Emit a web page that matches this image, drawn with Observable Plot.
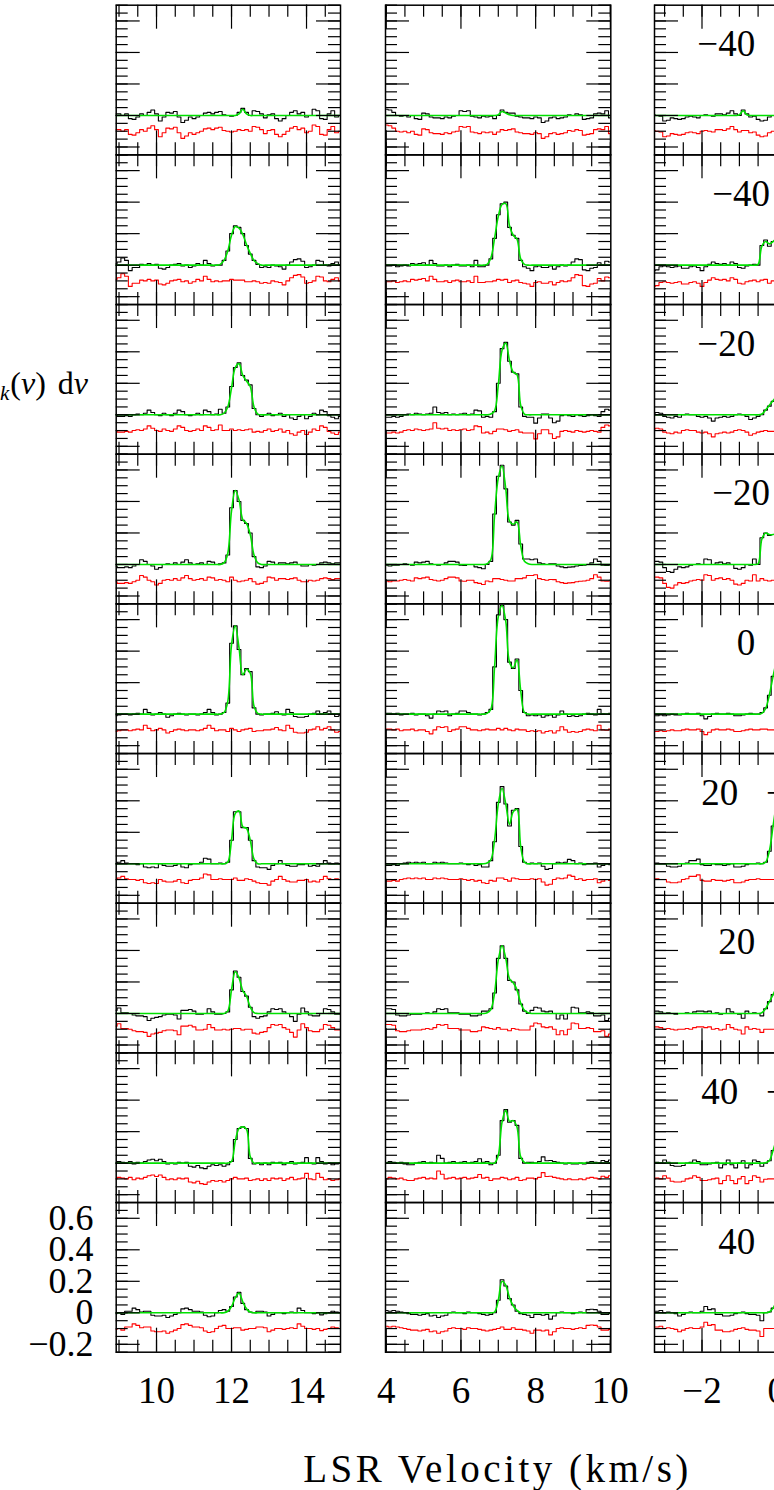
<!DOCTYPE html>
<html>
<head>
<meta charset="utf-8">
<title>Spectra grid</title>
<script src="https://cdn.jsdelivr.net/npm/d3@7"></script>
<script src="https://cdn.jsdelivr.net/npm/@observablehq/plot@0.6"></script>
<style>
  html, body { margin: 0; padding: 0; background: #fff; }
  body { width: 774px; height: 1490px; position: relative; overflow: hidden; font-family: "Liberation Serif", "DejaVu Serif", serif; color: #000; }
  .col { position: absolute; top: 0; z-index: 1; }
  .col svg { max-width: none !important; display: block; }
  #ylabel { position: absolute; z-index: 5; right: 686px; top: 367px; font-size: 32px; line-height: 32px; white-space: nowrap; word-spacing: 4px; }
  #ylabel sub { font-size: 21px; font-style: italic; vertical-align: -6px; line-height: 0; margin-left: 6px; margin-right: 1px; }
  #xlabel { position: absolute; z-index: 5; left: 497.5px; top: 1449px; transform: translateX(-50%); font-size: 39px; line-height: 39px; letter-spacing: 3.5px; white-space: nowrap; }
</style>
</head>
<body>
<div id="ylabel">&#8747;&#8201;<i>T</i><sub>k</sub>(<i>v</i>) d<i>v</i></div>
<div id="xlabel">LSR Velocity (km/s)</div>
<script>
// ---------------- data ----------------
const CHANNEL_WIDTH = 0.1;      // km/s
const RESIDUAL_OFFSET = -0.1;   // residual plotted shifted down
const rows = [1, 2, 3, 4, 5, 6, 7, 8, 9];

const yDomain = [-0.25, 0.7];
const yMajorTicks = [-0.2, 0, 0.2, 0.4, 0.6];
const yMinorTicks = [-0.25, -0.2, -0.15, -0.1, -0.05, 0, 0.05, 0.1, 0.15, 0.2, 0.25, 0.3, 0.35, 0.4, 0.45, 0.5, 0.55, 0.6, 0.65, 0.7];
const yTickLabels = [-0.2, 0, 0.2, 0.4, 0.6];

// column 1 (v = 8.9 ... 14.9)
const col1Domain = [8.925, 14.906];
const col1MajorTicks = [10, 12, 14];
const col1MinorTicks = [9, 9.5, 10, 10.5, 11, 11.5, 12, 12.5, 13, 13.5, 14, 14.5];
const col1VStart = 8.9;
const obsCol1 = [
 [0.01,0.01,0.00,0.01,-0.02,-0.025,-0.01,0.01,0.00,0.02,
  0.035,0.01,-0.035,-0.01,0.02,0.015,0.025,-0.01,-0.045,-0.03,
  -0.01,-0.02,-0.01,0.00,0.015,0.02,0.01,0.02,0.025,0.005,
  0.00,-0.005,0.00,0.02,0.045,0.02,0.00,0.03,0.025,0.01,
  -0.015,0.005,0.01,-0.02,-0.035,-0.02,0.00,0.02,0.03,0.01,
  0.02,-0.01,0.00,0.04,0.03,-0.02,-0.025,0.01,0.03,-0.01,
  0.00],
 [0.01,0.02,0.045,0.03,-0.035,-0.015,-0.015,0.005,0.00,0.01,
  0.00,0.005,-0.02,-0.025,-0.015,0.00,0.005,0.01,-0.005,0.00,
  -0.015,-0.005,0.01,0.00,0.03,0.01,-0.005,0.00,0.00,0.03,
  0.09,0.20,0.25,0.24,0.20,0.125,0.07,0.03,0.005,-0.015,
  -0.01,-0.015,0.00,-0.005,-0.01,-0.025,0.00,0.02,0.035,0.04,
  0.025,-0.015,-0.01,0.00,0.03,0.025,0.00,-0.005,0.01,0.02,
  0.00],
 [0.00,-0.01,-0.01,-0.005,-0.01,0.00,0.005,0.00,0.01,0.03,
  0.015,0.00,-0.005,0.01,0.00,-0.005,0.01,0.03,0.02,0.00,
  -0.005,0.00,0.01,0.00,0.03,0.02,0.00,0.005,0.035,0.01,
  0.05,0.18,0.30,0.33,0.25,0.22,0.19,0.04,0.00,-0.01,
  0.00,0.01,-0.005,0.00,0.01,-0.01,0.00,-0.02,-0.03,-0.01,
  0.00,-0.025,-0.01,0.01,0.00,0.03,0.02,-0.005,-0.015,-0.025,
  -0.01],
 [-0.01,-0.02,-0.02,-0.015,-0.02,-0.01,0.00,0.03,0.02,0.00,
  -0.01,-0.03,-0.02,0.00,0.005,0.00,0.01,0.00,0.015,0.03,
  0.01,0.00,0.005,0.01,0.00,0.02,0.015,0.00,0.005,0.01,
  0.06,0.36,0.47,0.40,0.28,0.26,0.20,0.05,-0.015,-0.02,
  -0.01,0.02,0.015,0.00,0.01,0.01,0.005,0.01,0.015,0.00,
  -0.01,-0.01,0.00,-0.005,0.00,0.01,0.015,0.01,0.005,0.01,
  0.01],
 [-0.01,-0.005,0.00,0.00,-0.005,0.00,0.005,0.00,0.03,0.01,
  -0.005,0.00,0.01,0.00,-0.02,-0.01,0.00,0.005,0.00,-0.005,
  0.00,0.00,-0.005,0.00,0.01,0.03,0.01,-0.005,0.00,0.01,
  0.07,0.45,0.56,0.41,0.25,0.29,0.27,0.04,0.00,-0.005,
  0.00,0.00,0.005,0.015,0.00,-0.005,0.03,0.01,-0.015,-0.02,
  -0.02,-0.015,0.00,0.005,0.02,0.00,0.01,0.02,0.00,-0.015,
  -0.01],
 [0.00,0.01,0.02,0.005,0.00,0.00,-0.005,0.00,-0.02,-0.025,
  -0.02,-0.025,0.00,-0.01,-0.015,-0.015,-0.01,0.00,-0.02,-0.025,
  -0.005,0.00,0.00,0.01,0.035,0.03,0.00,0.00,0.005,0.00,
  0.01,0.15,0.33,0.33,0.23,0.23,0.15,0.02,-0.02,-0.025,
  -0.025,-0.035,-0.01,0.00,0.02,0.00,-0.01,-0.015,-0.015,-0.005,
  -0.005,0.00,-0.015,-0.01,-0.015,0.00,0.02,0.005,0.00,0.005,
  0.00],
 [0.02,0.035,0.005,0.005,0.00,-0.01,-0.015,-0.015,-0.02,-0.045,
  -0.03,-0.025,-0.02,-0.01,-0.005,-0.005,-0.01,-0.035,0.02,0.02,
  0.025,0.015,-0.005,-0.005,0.00,0.03,0.01,-0.005,-0.005,0.00,
  0.01,0.15,0.27,0.23,0.14,0.11,0.04,-0.02,-0.03,-0.02,
  -0.015,0.01,0.03,0.025,0.03,0.01,0.00,-0.02,-0.05,-0.005,
  0.035,0.01,-0.01,-0.015,-0.015,0.00,0.03,0.025,0.01,-0.005,
  -0.005],
 [0.00,0.01,0.005,0.00,0.01,-0.005,0.005,0.00,0.01,0.02,
  0.025,0.015,0.025,0.01,-0.005,0.00,-0.005,0.005,0.00,0.005,
  -0.02,-0.025,-0.015,-0.03,-0.035,-0.02,-0.01,-0.015,-0.01,-0.02,
  -0.01,0.01,0.15,0.22,0.23,0.22,0.03,-0.005,0.00,-0.01,
  0.00,-0.01,0.005,0.00,0.005,-0.01,0.00,0.01,-0.005,0.00,
  0.005,0.035,0.00,-0.005,0.035,0.01,-0.005,0.00,-0.01,-0.005,
  0.00],
 [-0.005,0.00,-0.01,0.01,0.01,0.03,0.02,0.005,0.01,0.01,
  -0.015,-0.02,-0.02,-0.015,-0.03,-0.02,-0.01,0.00,0.025,0.03,
  0.02,0.01,0.01,0.005,-0.015,-0.025,-0.02,0.00,0.015,0.02,
  0.01,0.04,0.10,0.13,0.06,0.02,0.005,0.00,0.01,0.01,
  0.005,-0.02,-0.01,0.00,0.00,-0.005,0.00,0.005,0.00,0.03,
  0.015,0.00,0.00,-0.005,0.00,-0.013,-0.005,0.00,0.01,0.005,
  0.00]
];
// fit: [first velocity of the line profile, profile values]; zero elsewhere
const fitCol1 = [
 [12.2, [0.01,0.04,0.01]],
 [11.7, [0.005,0.03,0.09,0.19,0.245,0.235,0.195,0.13,0.075,0.03,0.01]],
 [11.8, [0.01,0.05,0.17,0.30,0.325,0.25,0.215,0.18,0.05,0.005]],
 [11.8, [0.01,0.07,0.34,0.47,0.41,0.285,0.26,0.19,0.06,0.01]],
 [11.8, [0.01,0.08,0.44,0.56,0.42,0.25,0.285,0.26,0.05,0.005]],
 [11.9, [0.01,0.15,0.32,0.335,0.235,0.225,0.15,0.03,0.0]],
 [11.9, [0.015,0.15,0.265,0.225,0.145,0.11,0.04,0.005]],
 [12.0, [0.01,0.14,0.22,0.23,0.215,0.04,0.0]],
 [11.9, [0.01,0.04,0.095,0.125,0.07,0.025,0.005]]
];

// column 2 (v = 3.9 ... 10.1)
const col2Domain = [3.98, 10.012];
const col2MajorTicks = [4, 6, 8, 10];
const col2MinorTicks = [4, 4.5, 5, 5.5, 6, 6.5, 7, 7.5, 8, 8.5, 9, 9.5, 10];
const col2VStart = 3.9;
const obsCol2 = [
 [0.03,0.04,0.035,0.02,0.00,-0.005,0.00,-0.01,0.00,-0.02,
  -0.025,0.015,0.01,-0.01,-0.015,-0.015,-0.02,-0.01,-0.015,-0.005,
  0.00,0.03,0.025,0.03,-0.005,-0.01,-0.015,-0.005,-0.01,-0.005,
  -0.02,0.00,0.035,0.02,0.015,0.015,-0.005,-0.01,-0.015,-0.015,
  -0.02,-0.01,-0.015,-0.045,-0.035,-0.015,-0.01,-0.02,-0.015,-0.01,
  0.005,0.00,0.01,0.005,-0.025,-0.02,-0.015,0.01,0.015,0.01,
  0.03,-0.015,-0.01],
 [0.00,-0.005,-0.005,0.00,-0.01,-0.005,0.00,-0.005,0.01,0.005,
  0.01,0.015,0.00,0.03,0.01,-0.005,-0.005,0.00,-0.01,0.00,
  0.005,-0.005,-0.005,0.00,-0.01,0.03,-0.01,-0.01,0.00,0.04,
  0.17,0.32,0.39,0.40,0.24,0.19,0.17,0.03,-0.01,-0.02,
  -0.035,-0.01,-0.005,-0.015,-0.015,-0.005,-0.025,-0.01,0.00,-0.005,
  0.00,0.02,0.04,0.035,-0.03,-0.035,-0.02,-0.015,0.015,0.00,
  0.025,0.02,0.01],
 [-0.01,-0.015,-0.015,-0.01,-0.015,-0.01,0.00,0.005,0.00,0.01,
  0.005,0.00,0.005,0.01,0.05,0.015,0.01,0.015,0.00,0.005,
  0.00,0.005,0.01,0.00,0.005,0.03,0.025,-0.015,-0.01,-0.015,
  0.02,0.20,0.42,0.46,0.34,0.27,0.26,0.05,-0.01,-0.015,
  -0.015,-0.053,-0.02,0.005,0.005,-0.02,-0.05,-0.04,-0.005,0.00,
  -0.005,-0.01,0.00,-0.005,-0.01,-0.005,0.00,-0.005,-0.01,0.02,
  0.035,0.03,0.02],
 [0.00,-0.005,-0.01,-0.005,-0.005,0.00,0.005,0.00,-0.005,0.015,
  0.01,0.015,0.02,0.005,0.00,-0.005,0.00,0.01,0.02,0.02,
  0.015,-0.005,-0.006,0.00,0.00,-0.015,-0.02,-0.027,0.00,0.02,
  0.32,0.56,0.63,0.48,0.27,0.25,0.28,0.13,0.035,0.035,
  0.03,0.035,0.01,0.005,0.00,0.005,0.004,-0.01,-0.015,-0.02,
  -0.017,-0.015,-0.01,-0.006,-0.005,0.00,0.01,0.035,0.02,-0.005,
  -0.006,-0.005,0.00],
 [0.00,0.005,0.005,0.00,0.005,-0.005,0.00,0.00,0.005,-0.005,
  0.00,0.00,-0.01,-0.025,0.00,0.02,0.015,0.02,-0.01,0.00,
  0.005,0.02,0.02,0.01,0.00,0.00,-0.005,0.00,0.01,0.03,
  0.30,0.63,0.69,0.60,0.33,0.29,0.35,0.15,0.01,-0.01,
  -0.005,-0.01,-0.005,-0.02,-0.01,-0.005,-0.02,-0.005,0.02,0.00,
  -0.015,-0.01,-0.015,-0.01,0.00,0.005,0.00,-0.005,0.03,0.00,
  -0.002,0.005,0.00],
 [-0.005,-0.01,-0.01,-0.005,-0.01,0.00,0.005,0.01,0.005,0.01,
  0.005,0.01,0.00,0.00,0.01,0.005,0.01,0.005,0.00,0.00,
  0.00,0.005,0.00,-0.005,0.00,-0.01,-0.005,-0.02,-0.02,0.02,
  0.14,0.39,0.49,0.38,0.24,0.34,0.35,0.11,0.01,0.00,
  0.005,0.00,0.005,-0.015,-0.035,-0.03,0.00,0.01,0.005,0.01,
  0.028,0.02,0.00,0.005,-0.005,0.00,0.00,0.005,-0.02,-0.01,
  0.00,-0.005,0.00],
 [0.02,0.03,0.03,0.025,-0.01,-0.015,-0.015,-0.01,-0.005,-0.005,
  -0.005,0.00,0.005,0.00,0.01,0.03,0.025,0.03,0.005,0.005,
  0.005,-0.005,-0.005,-0.005,-0.015,-0.015,-0.01,0.015,0.015,0.03,
  0.13,0.35,0.43,0.35,0.21,0.20,0.15,0.06,0.015,0.00,
  0.02,0.04,0.035,0.015,0.01,0.015,0.00,-0.035,-0.01,-0.035,
  0.00,0.04,0.035,0.005,0.005,0.01,0.005,-0.015,-0.015,-0.01,
  -0.045,-0.03,-0.02],
 [0.005,0.00,0.01,0.005,0.00,0.005,-0.005,-0.01,-0.01,0.00,
  0.005,0.01,0.00,0.005,0.00,0.05,0.03,0.00,0.005,0.01,
  0.00,0.005,0.01,0.00,0.005,0.01,0.028,0.005,0.01,-0.01,
  0.00,0.05,0.27,0.34,0.26,0.27,0.24,0.03,0.00,0.005,
  0.005,0.00,0.01,0.04,0.015,0.017,0.01,0.005,0.00,-0.005,
  0.00,-0.005,-0.005,0.00,-0.005,0.005,0.01,0.005,0.00,0.017,
  0.01,0.02,0.015],
 [0.01,0.015,0.01,0.015,0.01,0.005,0.00,-0.005,-0.01,-0.01,
  -0.015,-0.01,-0.005,-0.02,-0.015,-0.03,-0.02,-0.015,0.00,0.005,
  0.00,0.00,-0.005,0.005,0.00,0.00,-0.005,-0.01,-0.015,-0.01,
  0.00,0.08,0.21,0.17,0.09,0.05,0.01,-0.005,-0.01,-0.015,
  -0.03,-0.01,-0.01,-0.015,-0.01,-0.04,-0.02,0.00,0.005,0.00,
  0.00,-0.005,0.00,0.005,0.00,0.02,0.023,0.02,0.01,-0.01,
  -0.01,-0.005,0.00]
];
const fitCol2 = [
 [7.0, [0.005,0.025,0.015,0.005]],
 [6.7, [0.005,0.045,0.17,0.31,0.385,0.39,0.25,0.19,0.165,0.04,0.005]],
 [6.8, [0.005,0.025,0.19,0.41,0.455,0.345,0.27,0.255,0.06,0.005]],
 [6.7, [0.005,0.03,0.31,0.55,0.625,0.48,0.275,0.255,0.27,0.12,0.02,0.005]],
 [6.7, [0.005,0.03,0.30,0.62,0.69,0.59,0.33,0.295,0.345,0.15,0.01]],
 [6.7, [0.005,0.025,0.15,0.38,0.48,0.38,0.25,0.33,0.345,0.11,0.01]],
 [6.7, [0.005,0.025,0.13,0.34,0.43,0.35,0.22,0.195,0.15,0.065,0.02,0.005]],
 [6.9, [0.0,0.05,0.26,0.335,0.265,0.27,0.23,0.04,0.005]],
 [6.9, [0.005,0.08,0.2,0.175,0.095,0.045,0.015,0.0]]
];

// column 3 (v = -3.3 ... 0.0 visible part)
const col3Domain = [-3.27, 2.746];
const col3MajorTicks = [-2, 0, 2];
const col3MinorTicks = [-3, -2.5, -2, -1.5, -1, -0.5, 0, 0.5, 1, 1.5, 2, 2.5];
const col3VStart = -3.3;
const obsCol3 = [
 [0.005,0.00,-0.005,-0.035,-0.03,-0.015,-0.02,-0.025,-0.02,-0.01,
  -0.005,-0.01,-0.015,0.00,0.005,0.00,-0.005,0.01,0.01,0.005,
  0.015,0.03,0.01,0.00,0.035,0.01,-0.01,-0.005,-0.025,-0.035,
  -0.03,-0.01,0.00,0.005],
 [-0.035,-0.03,-0.01,-0.005,-0.01,-0.015,-0.01,-0.005,-0.02,-0.02,
  -0.01,-0.005,-0.015,-0.035,-0.01,0.005,0.02,0.01,0.005,0.01,
  0.00,0.02,0.01,-0.015,-0.02,-0.005,0.00,0.005,0.00,0.125,
  0.16,0.12,0.15,0.18],
 [0.01,0.015,0.01,-0.01,-0.015,-0.02,-0.01,-0.015,0.00,0.005,
  0.00,0.00,-0.01,-0.015,-0.01,-0.02,-0.04,-0.02,-0.015,-0.01,
  -0.015,-0.01,0.00,0.005,0.00,-0.01,-0.03,-0.02,-0.01,0.00,
  0.03,0.055,0.085,0.12],
 [0.02,0.02,0.015,-0.02,-0.045,-0.05,-0.03,-0.015,-0.02,-0.015,
  -0.005,0.00,0.005,0.00,0.035,0.03,0.00,0.01,0.015,0.005,
  0.01,0.00,-0.025,-0.03,-0.02,0.00,-0.005,0.035,0.00,0.17,
  0.20,0.185,0.19,0.20],
 [-0.01,-0.01,-0.005,-0.01,-0.005,0.00,-0.005,-0.005,0.00,0.005,
  0.00,0.00,0.005,-0.01,-0.03,-0.015,0.00,0.005,0.00,0.00,
  0.005,0.00,-0.01,-0.01,-0.005,0.00,0.005,0.00,0.00,0.01,
  0.04,0.12,0.24,0.35],
 [0.00,0.005,0.00,0.00,-0.015,-0.02,-0.02,-0.015,0.00,0.005,
  0.02,0.02,0.03,-0.005,-0.01,-0.01,0.00,-0.005,-0.005,-0.01,
  -0.005,0.00,-0.02,-0.02,-0.015,-0.005,0.00,0.00,0.005,0.00,
  0.01,0.08,0.24,0.40],
 [0.015,0.015,0.01,0.00,0.005,0.00,-0.005,0.00,0.00,0.005,
  0.00,0.01,0.015,0.015,0.01,0.015,0.00,0.005,-0.005,0.00,
  0.03,0.01,0.00,-0.005,-0.03,0.015,0.00,0.005,0.00,-0.015,
  0.03,0.075,0.12,0.17],
 [0.00,0.005,0.00,0.02,0.005,-0.015,-0.02,-0.02,-0.015,0.00,
  0.005,0.02,0.01,-0.01,-0.01,-0.005,0.00,0.005,-0.03,-0.01,
  0.02,-0.01,-0.03,0.00,0.015,-0.03,-0.01,0.02,0.01,-0.02,
  0.00,0.015,0.08,0.16],
 [0.01,0.01,0.015,0.00,0.005,0.00,-0.005,-0.02,-0.01,0.00,
  0.005,0.00,0.00,0.01,0.04,0.02,0.025,-0.01,-0.01,-0.02,
  -0.02,-0.015,-0.005,0.00,0.005,-0.005,-0.01,-0.01,-0.015,-0.05,
  0.00,0.005,0.03,0.08]
];
const fitCol3 = [
 [-1.0, [0.005,0.03,0.005]],
 [-0.5, [0.005,0.12,0.15,0.135,0.15,0.175]],
 [-0.4, [0.005,0.03,0.06,0.09,0.12]],
 [-0.5, [0.005,0.16,0.2,0.19,0.19,0.2]],
 [-0.4, [0.005,0.035,0.12,0.24,0.35]],
 [-0.4, [0.0,0.01,0.08,0.24,0.4]],
 [-0.4, [0.005,0.03,0.075,0.12,0.17]],
 [-0.3, [0.002,0.015,0.08,0.16]],
 [-0.3, [0.0,0.005,0.03,0.08]]
];
const col3Labels = ["\u221240", "\u221240", "\u221220", "\u221220", "0", "20\u00a0\u00a0\u00a0\u2212", "20", "40\u00a0\u00a0\u00a0\u2212", "40"];

// ---------------- build ----------------
function buildRecords(vStart, obsRows, fitRows) {
  const out = [];
  obsRows.forEach((vals, r) => {
    const [fitStart, fitVals] = fitRows[r];
    const k0 = Math.round((fitStart - vStart) / CHANNEL_WIDTH);
    vals.forEach((obs, i) => {
      const j = i - k0;
      const fit = (j >= 0 && j < fitVals.length) ? fitVals[j] : 0;
      out.push({row: r + 1, v: +(vStart + i * CHANNEL_WIDTH).toFixed(3), obs, fit, residual: obs - fit + RESIDUAL_OFFSET});
    });
  });
  return out;
}

const fmtX = d => d < 0 ? "\u2212" + Math.abs(d) : String(d);
const fmtY = d => d === 0 ? "0" : (d < 0 ? "\u2212" : "") + Math.abs(d).toFixed(1);
const FONT = "'Liberation Serif', 'DejaVu Serif', serif";

function column({records, domain, innerWidth, marginLeft, width, major, minor, showYLabels, labels, labelX}) {
  const marginTop = 4.7, marginBottom = 70.3, height = 1422;
  const H = (height - marginTop - marginBottom) / rows.length;
  const W = innerWidth;
  const marginRight = width - marginLeft - innerWidth;
  const tk = {stroke: "#000", strokeWidth: 1.2};
  const marks = [
    Plot.line(records, {x: "v", y: "residual", fy: "row", curve: "step", stroke: "#ff0000", strokeWidth: 1.1, clip: true}),
    Plot.line(records, {x: "v", y: "obs", fy: "row", curve: "step", stroke: "#000000", strokeWidth: 1.1, clip: true}),
    Plot.line(records, {x: "v", y: "fit", fy: "row", curve: "catmull-rom", stroke: "#00e000", strokeWidth: 1.6, clip: true}),
    Plot.tickX(minor, {x: d => d, insetBottom: H - 12, ...tk}),
    Plot.tickX(minor, {x: d => d, insetTop: H - 12, ...tk}),
    Plot.tickX(major, {x: d => d, insetBottom: H - 24, ...tk}),
    Plot.tickX(major, {x: d => d, insetTop: H - 24, ...tk}),
    Plot.tickY(yMinorTicks, {y: d => d, insetRight: W - 12, ...tk}),
    Plot.tickY(yMinorTicks, {y: d => d, insetLeft: W - 12, ...tk}),
    Plot.tickY(yMajorTicks, {y: d => d, insetRight: W - 24, ...tk}),
    Plot.tickY(yMajorTicks, {y: d => d, insetLeft: W - 24, ...tk}),
    Plot.frame({stroke: "#000", strokeWidth: 1.5}),
    Plot.text(major, {x: d => d, fy: () => 9, frameAnchor: "bottom", dy: 39.3, lineAnchor: "middle", text: fmtX, fontSize: 37, fill: "#000"})
  ];
  if (showYLabels) {
    marks.push(Plot.text(yTickLabels, {y: d => d, fy: () => 9, frameAnchor: "left", dx: -22.7, textAnchor: "end", lineAnchor: "middle", text: fmtY, fontSize: 36, fill: "#000"}));
  }
  if (labels) {
    const lab = labels.map((t, i) => ({row: i + 1, t}));
    marks.push(Plot.text(lab, {fy: "row", x: d => labelX(d.row), y: 0.45, text: "t", textAnchor: "end", lineAnchor: "middle", fontSize: 37, fill: "#000"}));
  }
  return Plot.plot({
    width, height, marginTop, marginBottom, marginLeft, marginRight,
    x: {domain, axis: null},
    y: {domain: yDomain, axis: null},
    fy: {domain: rows, padding: 0, round: false, axis: null},
    style: {fontFamily: FONT, background: "transparent", color: "#000", overflow: "visible"},
    marks
  });
}

function place(svg, left, width) {
  const div = document.createElement("div");
  div.className = "col";
  div.style.left = left + "px";
  div.style.width = width + "px";
  div.appendChild(svg);
  document.body.appendChild(div);
}

place(column({
  records: buildRecords(col1VStart, obsCol1, fitCol1), domain: col1Domain,
  innerWidth: 224.3, marginLeft: 115.7, width: 362,
  major: col1MajorTicks, minor: col1MinorTicks, showYLabels: true
}), 0, 362);

place(column({
  records: buildRecords(col2VStart, obsCol2, fitCol2), domain: col2Domain,
  innerWidth: 225.3, marginLeft: 20, width: 266,
  major: col2MajorTicks, minor: col2MinorTicks
}), 364.7, 266);

place(column({
  records: buildRecords(col3VStart, obsCol3, fitCol3), domain: col3Domain,
  innerWidth: 225, marginLeft: 20, width: 266,
  major: col3MajorTicks, minor: col3MinorTicks,
  labels: col3Labels,
  labelX: r => (r === 2 || r === 4) ? -0.18 : (r === 6 || r === 8) ? 0.27 : -0.577
}), 634.3, 266);
</script>
</body>
</html>
